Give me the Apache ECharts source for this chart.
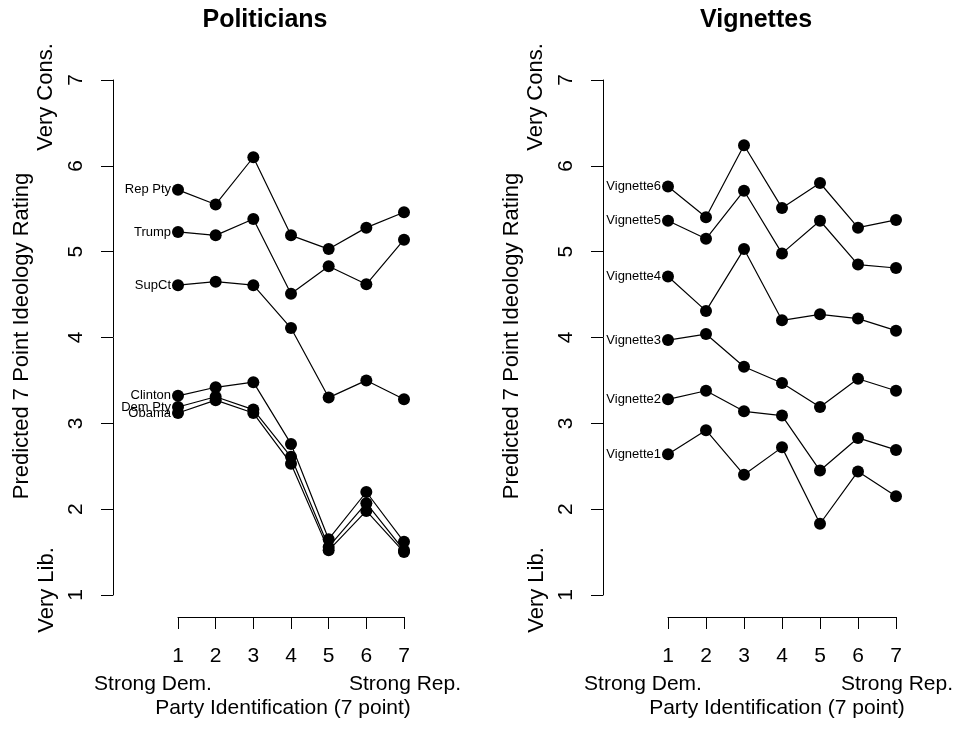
<!DOCTYPE html>
<html>
<head>
<meta charset="utf-8">
<script src="https://cdn.jsdelivr.net/npm/echarts@6/dist/echarts.min.js"></script>
<style>
html,body{margin:0;padding:0;background:#fff;}
#chart{width:965px;height:734px;}
</style>
</head>
<body>
<div id="chart"></div>
<script>
// ---- Data ----
const partyId = [1, 2, 3, 4, 5, 6, 7];
const yTicks = [1, 2, 3, 4, 5, 6, 7];

const politicianNames = ['Rep Pty', 'Trump', 'SupCt', 'Clinton', 'Dem Pty', 'Obama'];
const repPty  = [5.72, 5.55, 6.10, 5.19, 5.03, 5.28, 5.46];
const trump   = [5.23, 5.19, 5.38, 4.51, 4.83, 4.62, 5.14];
const supCt   = [4.61, 4.65, 4.61, 4.11, 3.30, 3.50, 3.28];
const clinton = [3.32, 3.42, 3.48, 2.76, 1.65, 2.20, 1.62];
const demPty  = [3.19, 3.31, 3.16, 2.61, 1.56, 2.07, 1.52];
const obama   = [3.12, 3.27, 3.12, 2.53, 1.52, 1.98, 1.50];

const vignetteNames = ['Vignette6', 'Vignette5', 'Vignette4', 'Vignette3', 'Vignette2', 'Vignette1'];
const vignette6 = [5.76, 5.40, 6.24, 5.51, 5.80, 5.28, 5.37];
const vignette5 = [5.36, 5.15, 5.71, 4.98, 5.36, 4.85, 4.81];
const vignette4 = [4.71, 4.31, 5.03, 4.20, 4.27, 4.22, 4.08];
const vignette3 = [3.97, 4.04, 3.66, 3.47, 3.19, 3.52, 3.38];
const vignette2 = [3.28, 3.38, 3.14, 3.09, 2.45, 2.83, 2.69];
const vignette1 = [2.64, 2.92, 2.40, 2.72, 1.83, 2.44, 2.15];

const politicianValues = [repPty, trump, supCt, clinton, demPty, obama];
const vignetteValues = [vignette6, vignette5, vignette4, vignette3, vignette2, vignette1];

// ---- Build ----
const FONT = '"Liberation Sans", Arial, Helvetica, sans-serif';

function makeSeries(name, vals, gi) {
  return {
    name: name,
    type: 'line',
    xAxisIndex: gi,
    yAxisIndex: gi,
    symbol: 'circle',
    symbolSize: 12,
    itemStyle: { color: '#000' },
    lineStyle: { color: '#000', width: 1.2 },
    animation: false,
    z: 3,
    data: vals.map((v, i) => {
      const item = { value: [partyId[i], v] };
      if (i === 0) {
        item.label = {
          show: true, position: 'left', distance: 1,
          formatter: name, color: '#000', fontSize: 13, fontFamily: FONT
        };
      }
      return item;
    })
  };
}

const series = [];
politicianNames.forEach((n, i) => series.push(makeSeries(n, politicianValues[i], 0)));
vignetteNames.forEach((n, i) => series.push(makeSeries(n, vignetteValues[i], 1)));

function xAx(gi) {
  return {
    gridIndex: gi, type: 'value', min: 1, max: 7, interval: 1,
    position: 'bottom', offset: 22,
    axisLine: { show: true, onZero: false, lineStyle: { color: '#000', width: 1 } },
    axisTick: { show: true, length: 12, lineStyle: { color: '#000', width: 1 } },
    axisLabel: { show: true, margin: 29, color: '#000', fontSize: 21, fontFamily: FONT },
    splitLine: { show: false }
  };
}
function yAx(gi) {
  return {
    gridIndex: gi, type: 'value', min: 1, max: 7, interval: 1,
    position: 'left', offset: 65,
    axisLine: { show: true, onZero: false, lineStyle: { color: '#000', width: 1 } },
    axisTick: { show: true, length: 12, lineStyle: { color: '#000', width: 1 } },
    axisLabel: { show: true, rotate: 90, margin: 26, color: '#000', fontSize: 21, fontFamily: FONT },
    splitLine: { show: false }
  };
}

function txt(text, x, y, opts) {
  opts = opts || {};
  return {
    type: 'text',
    x: x, y: y,
    rotation: opts.rot || 0,
    style: {
      text: text, x: 0, y: 0,
      align: 'center', verticalAlign: 'middle',
      fill: '#000',
      font: (opts.bold ? 'bold ' : '') + (opts.size || 21) + 'px ' + FONT
    },
    z: 10
  };
}

const graphics = [];
[0, 490].forEach((dx, k) => {
  graphics.push(txt(k === 0 ? 'Politicians' : 'Vignettes', 265 + dx + (k === 0 ? 0 : 1), 20, { bold: true, size: 25 }));
  graphics.push(txt('Predicted 7 Point Ideology Rating', 22 + dx, 336, { rot: Math.PI / 2, size: 22 }));
  graphics.push(txt('Very Cons.', 46 + dx, 97, { rot: Math.PI / 2, size: 22 }));
  graphics.push(txt('Very Lib.', 47 + dx, 590, { rot: Math.PI / 2, size: 22 }));
  graphics.push(txt('Strong Dem.', 153 + dx, 684, { size: 21 }));
  graphics.push(txt('Strong Rep.', 405 + dx + (k === 0 ? 0 : 2), 684, { size: 21 }));
  graphics.push(txt('Party Identification (7 point)', 283 + dx + (k === 0 ? 0 : 4), 708, { size: 21 }));
});

const option = {
  backgroundColor: '#fff',
  animation: false,
  grid: [
    { left: 178, right: 965 - 404, top: 80, bottom: 734 - 595, containLabel: false },
    { left: 668, right: 965 - 896, top: 80, bottom: 734 - 595, containLabel: false }
  ],
  xAxis: [xAx(0), xAx(1)],
  yAxis: [yAx(0), yAx(1)],
  series: series,
  graphic: graphics
};

const chart = echarts.init(document.getElementById('chart'), null, { renderer: 'canvas' });
chart.setOption(option);
</script>
</body>
</html>
